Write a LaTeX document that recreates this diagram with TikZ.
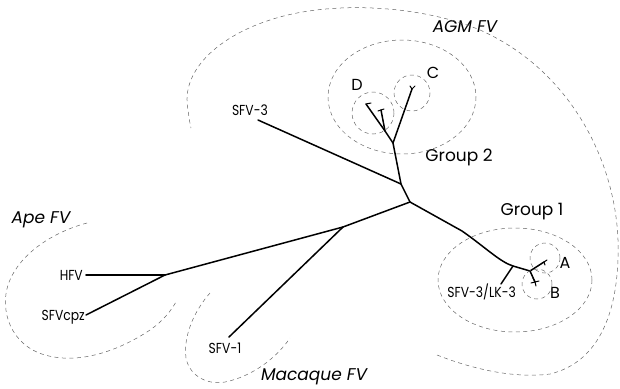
\documentclass[tikz,border=0pt]{standalone}
\usepackage{fontspec}
\setmainfont{Poppins}
\begin{document}
\begin{tikzpicture}[x=1pt,y=-1pt,
  branch/.style={line width=1.5pt, line cap=round, line join=round},
  tick/.style={line width=1pt, line cap=round},
  clade/.style={gray!80!black, line width=0.5pt, dash pattern=on 4pt off 3.5pt},
  taxon/.style={font=\fontsize{14.5}{15}\selectfont, inner sep=0pt, xscale=0.85},
  letter/.style={font=\fontsize{16}{17}\selectfont, inner sep=0pt},
  grp/.style={font=\fontsize{17}{18}\selectfont, inner sep=0pt},
  host/.style={font=\fontsize{17}{18}\selectfont\itshape, inner sep=0pt}]
\useasboundingbox (0,0) rectangle (620,388);
% ---- tree nodes ----
\coordinate (n0) at (410,202);
\coordinate (n1) at (401,184);
\coordinate (n2) at (393,143);
\coordinate (sfv3) at (258,120);
\coordinate (dtip) at (366,104);
\coordinate (djoin) at (385,131);
\coordinate (dtip2) at (381,110);
\coordinate (ctip) at (412,89);
\coordinate (mid1) at (462,231);
\coordinate (n3) at (513,266);
\coordinate (n4) at (530,271);
\coordinate (lk3) at (501,284);
\coordinate (atip) at (544,262);
\coordinate (btip) at (535,282);
\coordinate (n5) at (343,227);
\coordinate (sfv1) at (229,337);
\coordinate (n6) at (165,275);
\coordinate (hfv) at (86,275);
\coordinate (cpz) at (86,315);
% ---- branches ----
\draw[branch] (n1) -- (n0);
\draw[branch] (n1) -- (sfv3);
\draw[branch] (n1) -- (n2);
\draw[branch] (n2) -- (djoin) -- (dtip);
\draw[branch] (djoin) -- (dtip2);
\draw[branch] (n2) -- (ctip);
\draw[tick] (dtip) -- ++(5,-1);
\draw[tick] (dtip2) -- ++(-3,1);
\draw[tick] (dtip2) -- ++(3,-1);
\draw[tick] (ctip) -- ++(-2,-3);
\draw[tick] (ctip) -- ++(3,-3);
\draw[branch] (n0) -- (mid1) .. controls (485,247) and (500,262) .. (n3) -- (n4);
\draw[branch] (n3) -- (lk3);
\draw[branch] (n4) -- (atip);
\draw[tick] (atip) -- ++(3,-2);
\draw[tick] (atip) -- ++(1,3);
\draw[branch] (n4) -- (btip);
\draw[tick] (btip) -- ++(-4,1);
\draw[tick] (btip) -- ++(4,-1);
\draw[tick] (btip) -- ++(-2,-4);
\draw[tick] (btip) -- ++(1,4);
\draw[branch] (n0) -- (n5) -- (n6);
\draw[branch] (n5) -- (sfv1);
\draw[branch, line width=1.9pt] (n6) -- (hfv);
\draw[branch] (n6) -- (cpz);
% ---- labels ----
\node[taxon, anchor=east] (lsfv3) at (268,110) {SFV-3};
\node[letter] (ld) at (357,85) {D};
\node[letter] (lc) at (433,73) {C};
\node[grp] (lg2) at (459,157) {Group 2};
\node[grp] (lg1) at (532,212) {Group 1};
\node[letter] (la) at (565,263) {A};
\node[letter] (lb) at (555,293) {B};
\node[taxon, anchor=east] (llk3) at (516,292) {SFV-3/LK-3};
\node[taxon, anchor=east] (lhfv) at (83,275) {HFV};
\node[taxon, anchor=east] (lcpz) at (85,317) {SFVcpz};
\node[taxon] (lsfv1) at (225,348) {SFV-1};
\node[host] (lape) at (41,220) {Ape FV};
\node[host] (lmac) at (314,377) {Macaque FV};
\node[host] (lagm) at (465,27) {AGM FV};
% ---- dashed clade outlines ----
\draw[clade] (402,97) ellipse [x radius=74, y radius=57];
\draw[clade] (373,113) circle (21);
\draw[clade] (412,93) circle (18);
\draw[clade] (515,280) ellipse [x radius=77, y radius=52];
\draw[clade] (545,258) circle (15);
\draw[clade] (537,284) circle (15);
% AGM outer
\draw[clade] (437,355) .. controls (480,372) and (520,378) .. (550,374)
  .. controls (600,362) and (620,310) .. (618,240)
  .. controls (615,160) and (570,70) .. (480,30)
  .. controls (420,5) and (330,0) .. (270,20)
  .. controls (220,36) and (180,70) .. (188,110)
  .. controls (189,118) and (190,124) .. (191,128);
% Ape
\draw[clade] (87,223) .. controls (60,230) and (20,250) .. (8,285)
  .. controls (0,310) and (10,345) .. (45,355)
  .. controls (80,365) and (120,350) .. (150,330)
  .. controls (162,322) and (172,310) .. (177,300);
% Macaque
\draw[clade] (210,293) .. controls (195,310) and (183,335) .. (186,358)
  .. controls (190,378) and (210,385) .. (225,382)
  .. controls (250,377) and (275,360) .. (290,338);
\end{tikzpicture}
\end{document}
